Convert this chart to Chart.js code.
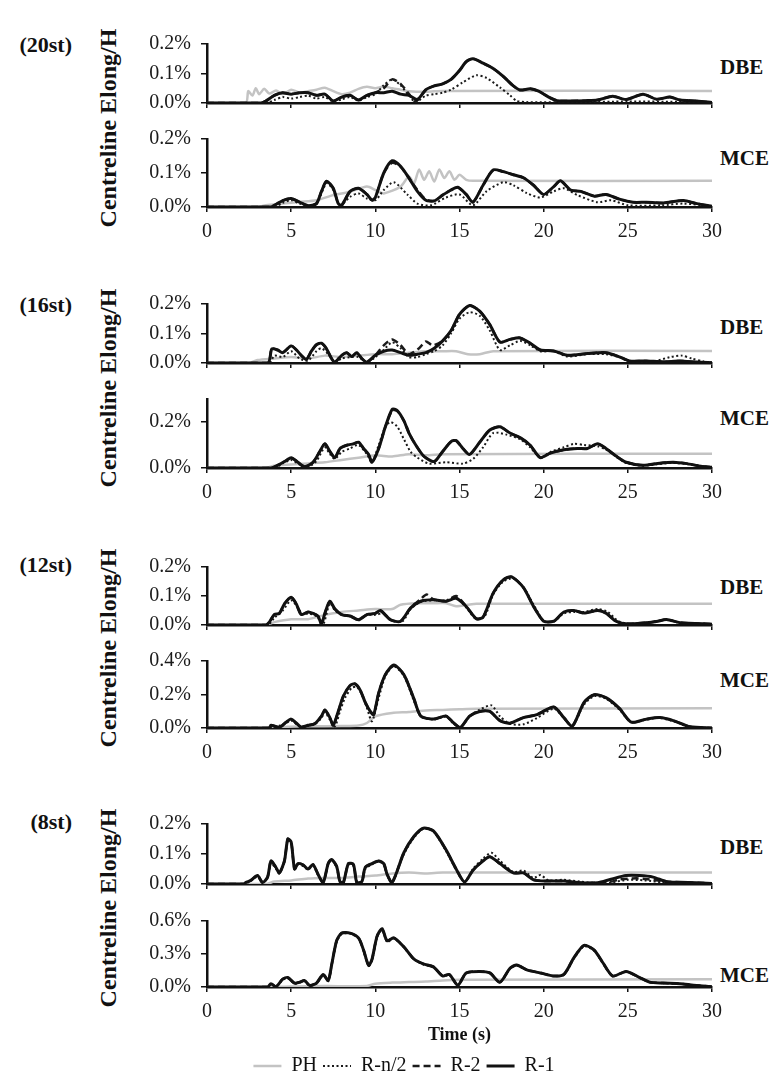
<!DOCTYPE html>
<html>
<head>
<meta charset="utf-8">
<script src="https://cdn.jsdelivr.net/npm/chart.js@4.4.1/dist/chart.umd.min.js"></script>
<style>
  html, body { margin: 0; padding: 0; background: #fff; overflow: hidden; }
  #page { position: relative; width: 777px; height: 1074px; font-family: "Liberation Serif", "Times New Roman", serif; color: #111; }
  #page canvas { position: absolute; left: 96px; }
  .grp { position: absolute; right: 705px; font-weight: bold; font-size: 22px; transform: translateY(-50%); white-space: nowrap; }
  .ytitle { position: absolute; left: 108px; font-weight: bold; font-size: 24px; white-space: nowrap; transform: translate(-50%, -50%) rotate(-90deg); }
  .case { position: absolute; left: 720px; font-weight: bold; font-size: 21px; transform: translateY(-50%); }
</style>
</head>
<body>
<div id="page">
  <div class="grp" style="top:45px">(20st)</div>
  <div class="grp" style="top:305px">(16st)</div>
  <div class="grp" style="top:565px">(12st)</div>
  <div class="grp" style="top:822px">(8st)</div>
  <div class="ytitle" style="top:128px">Centreline Elong/H</div>
  <div class="ytitle" style="top:388px">Centreline Elong/H</div>
  <div class="ytitle" style="top:648px">Centreline Elong/H</div>
  <div class="ytitle" style="top:908px">Centreline Elong/H</div>
  <div class="case" style="top:67px">DBE</div>
  <div class="case" style="top:158px">MCE</div>
  <div class="case" style="top:327px">DBE</div>
  <div class="case" style="top:418px">MCE</div>
  <div class="case" style="top:587px">DBE</div>
  <div class="case" style="top:680px">MCE</div>
  <div class="case" style="top:847px">DBE</div>
  <div class="case" style="top:975px">MCE</div>
</div>
<script>
// centreline elongation / height (%) against time (s), [t, value] pairs

// 20 storey
const st20_dbe_ph = [[0,0],[2.3,0],[2.45,0.04],[2.7,0.025],[2.9,0.05],[3.1,0.03],[3.4,0.048],[3.7,0.032],[4.1,0.042],[4.5,0.03],[5,0.045],[5.5,0.035],[6,0.04],[6.5,0.045],[7,0.052],[7.5,0.04],[8,0.03],[8.5,0.035],[9,0.048],[9.5,0.055],[10,0.05],[10.5,0.056],[11,0.05],[11.5,0.045],[12,0.04],[13,0.038],[14,0.041],[30,0.041]];
const st20_dbe_rn2 = [[0,0],[3.5,0],[4,0.01],[4.5,0.02],[5,0.015],[5.5,0.02],[6,0.025],[6.5,0.015],[7,0.02],[7.5,0.005],[8,0.012],[8.5,0.02],[9,0.008],[9.5,0.02],[10,0.03],[10.5,0.06],[11,0.08],[11.5,0.06],[12,0.025],[12.4,0.003],[13,0.025],[13.5,0.03],[14,0.035],[14.5,0.045],[15.2,0.07],[16,0.094],[16.6,0.085],[17.4,0.053],[18,0.026],[18.4,0.007],[19,0.003],[22,0.003],[25,0.005],[28,0.004],[30,0.002]];
const st20_dbe_r2 = [[0,0],[3.2,0],[3.5,0.007],[4,0.026],[4.5,0.035],[5,0.03],[5.5,0.035],[6,0.035],[6.5,0.026],[7,0.03],[7.5,0.007],[8,0.02],[8.5,0.026],[9,0.01],[9.5,0.026],[10,0.035],[10.5,0.05],[11,0.08],[11.5,0.065],[12,0.03],[12.4,0.005],[13,0.045],[13.5,0.058],[14,0.065],[14.5,0.08],[15,0.11],[15.4,0.14],[15.8,0.15],[16.4,0.135],[17,0.117],[17.6,0.09],[18.2,0.058],[18.6,0.044],[19.2,0.048],[19.7,0.04],[20.3,0.02],[20.8,0.008],[21.5,0.007],[22.5,0.008],[23.2,0.01],[24.1,0.023],[24.9,0.012],[25.9,0.03],[26.7,0.013],[27.5,0.02],[28.1,0.01],[29.1,0.007],[30,0.002]];
const st20_dbe_r1 = [[0,0],[3.2,0],[3.5,0.007],[4,0.026],[4.5,0.035],[5,0.03],[5.5,0.035],[6,0.035],[6.5,0.026],[7,0.03],[7.5,0.007],[8,0.02],[8.5,0.026],[9,0.01],[9.5,0.026],[10,0.035],[10.5,0.035],[11,0.04],[11.5,0.03],[12,0.026],[12.5,0.012],[13,0.045],[13.5,0.058],[14,0.065],[14.5,0.08],[15,0.11],[15.4,0.14],[15.8,0.15],[16.4,0.135],[17,0.117],[17.6,0.09],[18.2,0.058],[18.6,0.044],[19.2,0.048],[19.7,0.04],[20.3,0.02],[20.8,0.008],[21.5,0.007],[22.5,0.008],[23.2,0.01],[24.1,0.023],[24.9,0.012],[25.9,0.03],[26.7,0.013],[27.5,0.02],[28.1,0.01],[29.1,0.007],[30,0.002]];

const st20_mce_ph = [[0,0],[3,0],[3.5,0.005],[4.5,0.01],[5.5,0.015],[6.5,0.02],[7.5,0.035],[8.5,0.045],[9.5,0.06],[10,0.05],[10.5,0.04],[11.5,0.06],[12,0.09],[12.3,0.07],[12.6,0.11],[12.9,0.08],[13.2,0.105],[13.5,0.075],[13.8,0.11],[14.1,0.085],[14.4,0.105],[14.7,0.08],[15,0.095],[15.4,0.08],[15.8,0.077],[30,0.077]];
const st20_mce_rn2 = [[0,0],[4,0],[4.5,0.012],[5,0.02],[5.5,0.01],[6,0.003],[6.5,0.008],[7.1,0.07],[7.5,0.05],[7.9,0.005],[8.5,0.03],[9,0.04],[9.5,0.025],[10,0.02],[10.5,0.05],[11.1,0.073],[11.9,0.037],[12.5,0.01],[13.3,0.005],[14.2,0.028],[15,0.037],[15.8,0.005],[16.6,0.046],[17.6,0.073],[18.2,0.064],[19,0.041],[19.8,0.028],[20.6,0.046],[21.2,0.055],[22,0.035],[23.2,0.014],[24,0.02],[25,0.005],[27,0.005],[28.3,0.01],[30,0.002]];
const st20_mce_r2 = [[0,0],[3.8,0],[4,0.005],[4.5,0.019],[5,0.025],[5.5,0.014],[6,0.004],[6.5,0.01],[6.8,0.046],[7.1,0.076],[7.5,0.055],[7.8,0.01],[8,0.005],[8.5,0.046],[9,0.055],[9.5,0.037],[9.8,0.02],[10,0.028],[10.5,0.1],[11,0.13],[11.5,0.118],[12,0.085],[12.5,0.05],[13,0.022],[13.5,0.018],[14,0.035],[14.5,0.05],[14.9,0.058],[15.4,0.037],[15.8,0.014],[16.4,0.064],[17,0.109],[17.6,0.104],[18.2,0.095],[18.8,0.086],[19.4,0.064],[20,0.037],[20.6,0.06],[21,0.077],[21.6,0.05],[22.2,0.046],[23,0.032],[23.7,0.037],[24.5,0.023],[25.3,0.014],[26.1,0.014],[27.1,0.012],[28.3,0.019],[29.1,0.01],[30,0.002]];
const st20_mce_r1 = [[0,0],[3.8,0],[4,0.005],[4.5,0.019],[5,0.025],[5.5,0.014],[6,0.004],[6.5,0.01],[6.8,0.046],[7.1,0.076],[7.5,0.055],[7.8,0.01],[8,0.005],[8.5,0.046],[9,0.055],[9.5,0.037],[9.8,0.02],[10,0.028],[10.5,0.1],[11,0.136],[11.5,0.12],[12,0.085],[12.5,0.046],[13,0.02],[13.5,0.018],[14,0.035],[14.5,0.05],[14.9,0.058],[15.4,0.037],[15.8,0.014],[16.4,0.064],[17,0.109],[17.6,0.104],[18.2,0.095],[18.8,0.086],[19.4,0.064],[20,0.037],[20.6,0.06],[21,0.077],[21.6,0.05],[22.2,0.046],[23,0.032],[23.7,0.037],[24.5,0.023],[25.3,0.014],[26.1,0.014],[27.1,0.012],[28.3,0.019],[29.1,0.01],[30,0.002]];

// 16 storey
const st16_dbe_ph = [[0,0],[2.5,0],[3,0.01],[4,0.015],[5,0.02],[6,0.015],[7,0.025],[8,0.02],[9,0.025],[10,0.03],[11,0.03],[12,0.035],[13,0.04],[14,0.04],[14.8,0.04],[15.5,0.03],[16.2,0.03],[17,0.04],[30,0.041]];
const st16_dbe_rn2 = [[0,0],[3.7,0],[4,0.025],[4.5,0.02],[5,0.04],[5.5,0.015],[6,0.008],[6.5,0.04],[6.8,0.05],[7.2,0.03],[7.6,0.003],[8,0.015],[8.5,0.02],[9,0.02],[9.5,0.003],[10,0.02],[10.5,0.045],[11,0.07],[11.5,0.05],[12,0.02],[12.5,0.02],[13,0.03],[13.5,0.04],[14,0.06],[14.5,0.1],[15,0.15],[15.6,0.172],[16.2,0.16],[16.8,0.11],[17.4,0.044],[18,0.06],[18.6,0.075],[19.2,0.06],[19.8,0.04],[20.6,0.04],[21.4,0.022],[22.6,0.03],[23.7,0.03],[24.5,0.02],[25.1,0.005],[26.5,0.005],[27.5,0.02],[28.2,0.025],[28.8,0.015],[29.5,0.005],[30,0.001]];
const st16_dbe_r2 = [[0,0],[3.6,0],[3.85,0.048],[4.2,0.044],[4.5,0.035],[5,0.058],[5.3,0.045],[5.6,0.026],[5.9,0.012],[6.2,0.04],[6.5,0.062],[6.8,0.067],[7.1,0.048],[7.4,0.015],[7.6,0.003],[8,0.026],[8.3,0.035],[8.6,0.022],[8.9,0.035],[9.2,0.015],[9.5,0.003],[10,0.026],[10.5,0.06],[11,0.08],[11.5,0.06],[12,0.03],[12.6,0.05],[13,0.073],[13.4,0.06],[14,0.075],[14.5,0.11],[15,0.165],[15.6,0.195],[16.2,0.176],[16.8,0.13],[17.4,0.071],[18,0.08],[18.6,0.085],[19.2,0.067],[19.8,0.044],[20.6,0.041],[21.4,0.026],[22.6,0.032],[23.7,0.035],[24.5,0.021],[25.1,0.007],[26.1,0.007],[27.1,0.004],[28.1,0.007],[29.1,0.003],[30,0.001]];
const st16_dbe_r1 = [[0,0],[3.6,0],[3.85,0.048],[4.2,0.044],[4.5,0.035],[5,0.058],[5.3,0.045],[5.6,0.026],[5.9,0.012],[6.2,0.04],[6.5,0.062],[6.8,0.067],[7.1,0.048],[7.4,0.015],[7.6,0.003],[8,0.026],[8.3,0.035],[8.6,0.022],[8.9,0.035],[9.2,0.015],[9.5,0.003],[10,0.026],[10.5,0.04],[11,0.044],[11.5,0.035],[12,0.026],[12.5,0.03],[13,0.035],[13.5,0.05],[14,0.075],[14.5,0.11],[15,0.165],[15.6,0.195],[16.2,0.176],[16.8,0.13],[17.4,0.071],[18,0.08],[18.6,0.085],[19.2,0.067],[19.8,0.044],[20.6,0.041],[21.4,0.026],[22.6,0.032],[23.7,0.035],[24.5,0.021],[25.1,0.007],[26.1,0.007],[27.1,0.004],[28.1,0.007],[29.1,0.003],[30,0.001]];

const st16_mce_ph = [[0,0],[3.5,0],[4,0.01],[5,0.015],[6,0.02],[7,0.025],[8,0.035],[9,0.045],[10,0.055],[11,0.05],[12,0.06],[13,0.055],[14,0.06],[30,0.062]];
const st16_mce_rn2 = [[0,0],[4,0],[4.5,0.02],[5,0.035],[5.5,0.015],[6,0.005],[6.5,0.03],[7,0.09],[7.3,0.06],[7.6,0.04],[8,0.07],[8.5,0.085],[9,0.1],[9.5,0.06],[9.8,0.025],[10.2,0.1],[10.6,0.18],[10.9,0.2],[11.3,0.18],[11.7,0.125],[12.1,0.07],[12.5,0.045],[13.2,0.019],[14.2,0.025],[15.2,0.019],[15.8,0.039],[16.4,0.09],[17,0.152],[17.8,0.145],[18.6,0.125],[19.2,0.09],[19.8,0.045],[20.4,0.07],[21.2,0.09],[21.8,0.105],[22.4,0.1],[23.2,0.095],[23.7,0.08],[24.3,0.05],[24.9,0.022],[25.9,0.01],[26.9,0.018],[27.7,0.022],[28.5,0.017],[30,0.003]];
const st16_mce_r2 = [[0,0],[3.8,0],[4.2,0.012],[4.7,0.032],[5,0.045],[5.4,0.025],[5.8,0.005],[6.3,0.025],[6.7,0.072],[7,0.105],[7.3,0.072],[7.6,0.045],[7.9,0.085],[8.3,0.099],[8.7,0.105],[9,0.112],[9.3,0.085],[9.6,0.059],[9.8,0.025],[10.2,0.085],[10.6,0.18],[11,0.25],[11.3,0.248],[11.7,0.205],[12,0.152],[12.4,0.1],[12.9,0.05],[13.5,0.028],[14,0.072],[14.5,0.115],[14.8,0.119],[15.2,0.085],[15.6,0.059],[16.2,0.112],[16.8,0.165],[17.4,0.179],[18,0.152],[18.6,0.132],[19.2,0.099],[19.8,0.045],[20.4,0.065],[21.2,0.079],[22,0.085],[22.6,0.085],[23.2,0.105],[23.7,0.085],[24.3,0.052],[24.9,0.025],[25.9,0.012],[26.9,0.021],[27.7,0.025],[28.5,0.019],[29.3,0.008],[30,0.003]];
const st16_mce_r1 = [[0,0],[3.8,0],[4.2,0.012],[4.7,0.032],[5,0.045],[5.4,0.025],[5.8,0.005],[6.3,0.025],[6.7,0.072],[7,0.105],[7.3,0.072],[7.6,0.045],[7.9,0.085],[8.3,0.099],[8.7,0.105],[9,0.112],[9.3,0.085],[9.6,0.059],[9.8,0.025],[10.2,0.085],[10.6,0.18],[11,0.255],[11.3,0.25],[11.7,0.205],[12,0.152],[12.4,0.1],[12.9,0.05],[13.5,0.028],[14,0.072],[14.5,0.115],[14.8,0.119],[15.2,0.085],[15.6,0.059],[16.2,0.112],[16.8,0.165],[17.4,0.179],[18,0.152],[18.6,0.132],[19.2,0.099],[19.8,0.045],[20.4,0.065],[21.2,0.079],[22,0.085],[22.6,0.085],[23.2,0.105],[23.7,0.085],[24.3,0.052],[24.9,0.025],[25.9,0.012],[26.9,0.021],[27.7,0.025],[28.5,0.019],[29.3,0.008],[30,0.003]];

// 12 storey
const st12_dbe_ph = [[0,0],[3.5,0],[4,0.01],[5,0.02],[6,0.02],[7,0.035],[8,0.045],[9,0.05],[10,0.055],[11,0.055],[11.5,0.07],[12.5,0.075],[13.5,0.075],[14.2,0.075],[14.8,0.065],[15.5,0.07],[16,0.073],[30,0.073]];
const st12_dbe_rn2 = [[0,0],[3.6,0],[4,0.025],[4.5,0.05],[5,0.085],[5.4,0.06],[5.7,0.035],[6,0.04],[6.5,0.03],[6.9,0.003],[7.3,0.075],[7.6,0.05],[8,0.035],[8.5,0.03],[9,0.02],[9.5,0.035],[10,0.035],[10.5,0.04],[11,0.015],[11.6,0.012],[12.1,0.055],[12.7,0.08],[13.45,0.085],[14.2,0.085],[14.8,0.095],[15.4,0.06],[16,0.02],[16.5,0.03],[17,0.105],[17.6,0.15],[18.2,0.16],[18.8,0.13],[19.4,0.07],[20,0.015],[20.6,0.012],[21.2,0.04],[21.8,0.045],[22.4,0.045],[23.2,0.055],[23.8,0.045],[24.4,0.015],[25,0.004],[26.1,0.008],[27.3,0.018],[28.1,0.008],[30,0.003]];
const st12_dbe_r2 = [[0,0],[3.5,0],[3.7,0.01],[4,0.036],[4.3,0.04],[4.6,0.073],[5,0.096],[5.3,0.073],[5.6,0.036],[6,0.045],[6.3,0.04],[6.6,0.03],[6.8,0.004],[7,0.04],[7.3,0.082],[7.6,0.055],[8,0.036],[8.5,0.031],[9,0.018],[9.5,0.036],[10,0.04],[10.3,0.05],[10.9,0.018],[11.5,0.013],[12.1,0.059],[12.7,0.09],[13.05,0.105],[13.4,0.09],[14.2,0.082],[14.8,0.1],[15.4,0.064],[16,0.022],[16.4,0.027],[17,0.11],[17.6,0.156],[18.1,0.166],[18.8,0.129],[19.4,0.064],[20,0.013],[20.6,0.013],[21.2,0.045],[21.8,0.05],[22.4,0.041],[23.2,0.05],[23.7,0.041],[24.3,0.013],[24.9,0.004],[26.1,0.008],[26.7,0.012],[27.3,0.019],[28.1,0.008],[30,0.003]];
const st12_dbe_r1 = [[0,0],[3.5,0],[3.7,0.01],[4,0.036],[4.3,0.04],[4.6,0.073],[5,0.096],[5.3,0.073],[5.6,0.036],[6,0.045],[6.3,0.04],[6.6,0.03],[6.8,0.004],[7,0.04],[7.3,0.082],[7.6,0.055],[8,0.036],[8.5,0.031],[9,0.018],[9.5,0.036],[10,0.04],[10.3,0.05],[10.9,0.018],[11.5,0.013],[12.1,0.059],[12.7,0.082],[13.45,0.087],[14.2,0.082],[14.8,0.092],[15.4,0.064],[16,0.022],[16.4,0.027],[17,0.11],[17.6,0.156],[18.1,0.166],[18.8,0.129],[19.4,0.064],[20,0.013],[20.6,0.013],[21.2,0.045],[21.8,0.05],[22.4,0.041],[23.2,0.05],[23.7,0.041],[24.3,0.013],[24.9,0.004],[26.1,0.008],[26.7,0.012],[27.3,0.019],[28.1,0.008],[30,0.003]];

const st12_mce_ph = [[0,0],[3.5,0],[4,0.005],[6,0.01],[8,0.012],[9,0.015],[9.5,0.03],[10,0.07],[11,0.09],[12,0.095],[13,0.105],[14,0.108],[15,0.112],[16,0.115],[30,0.118]];
const st12_mce_rn2 = [[0,0],[3.8,0],[4.7,0.03],[5,0.045],[5.5,0.01],[6,0.012],[6.4,0.022],[6.8,0.06],[7,0.095],[7.3,0.05],[7.6,0.01],[7.9,0.1],[8.2,0.18],[8.6,0.24],[8.9,0.245],[9.2,0.2],[9.5,0.12],[9.8,0.04],[10.2,0.18],[10.6,0.31],[11.1,0.37],[11.7,0.31],[12.3,0.16],[12.7,0.07],[13.45,0.05],[14.2,0.068],[14.6,0.03],[15.05,0.004],[15.6,0.07],[16.2,0.11],[16.9,0.135],[17.4,0.07],[18,0.025],[18.8,0.022],[19.6,0.06],[20.6,0.115],[21.2,0.06],[21.7,0.011],[22.4,0.14],[23,0.19],[23.7,0.175],[24.5,0.11],[25.2,0.035],[26.1,0.05],[26.9,0.06],[27.7,0.04],[28.7,0.006],[30,0]];
const st12_mce_r2 = [[0,0],[3.7,0],[3.8,0.016],[4.3,0.004],[4.7,0.035],[5,0.053],[5.3,0.03],[5.6,0.005],[6,0.016],[6.4,0.026],[6.8,0.071],[7,0.108],[7.3,0.062],[7.5,0.016],[7.8,0.1],[8.1,0.19],[8.5,0.254],[8.8,0.263],[9.1,0.226],[9.4,0.153],[9.7,0.099],[9.9,0.08],[10.2,0.21],[10.6,0.32],[11.1,0.372],[11.7,0.318],[12.3,0.172],[12.7,0.071],[13.45,0.053],[14.2,0.071],[14.6,0.035],[15.05,0.004],[15.6,0.071],[16.2,0.099],[16.8,0.099],[17.4,0.044],[18,0.029],[18.8,0.062],[19.6,0.08],[20.6,0.126],[21.2,0.062],[21.7,0.011],[22.4,0.153],[23,0.199],[23.7,0.181],[24.5,0.117],[25.2,0.035],[26.1,0.053],[26.9,0.062],[27.7,0.044],[28.7,0.007],[30,0]];
const st12_mce_r1 = [[0,0],[3.7,0],[3.8,0.016],[4.3,0.004],[4.7,0.035],[5,0.053],[5.3,0.03],[5.6,0.005],[6,0.016],[6.4,0.026],[6.8,0.071],[7,0.108],[7.3,0.062],[7.5,0.016],[7.8,0.1],[8.1,0.19],[8.5,0.254],[8.8,0.263],[9.1,0.226],[9.4,0.153],[9.7,0.099],[9.9,0.08],[10.2,0.21],[10.6,0.32],[11.1,0.376],[11.7,0.318],[12.3,0.172],[12.7,0.071],[13.45,0.053],[14.2,0.071],[14.6,0.035],[15.05,0.004],[15.6,0.071],[16.2,0.099],[16.8,0.099],[17.4,0.044],[18,0.029],[18.8,0.062],[19.6,0.08],[20.6,0.126],[21.2,0.062],[21.7,0.011],[22.4,0.153],[23,0.199],[23.7,0.181],[24.5,0.117],[25.2,0.035],[26.1,0.053],[26.9,0.062],[27.7,0.044],[28.7,0.007],[30,0]];

// 8 storey
const st8_dbe_ph = [[0,0],[3.5,0],[4,0.008],[5,0.012],[6,0.018],[7,0.02],[8,0.02],[9,0.025],[10,0.028],[11,0.035],[12,0.038],[13,0.035],[14,0.038],[30,0.038]];
const st8_dbe_rn2 = [[0,0],[2.2,0],[2.6,0.01],[3,0.025],[3.3,0.005],[3.6,0.02],[3.8,0.07],[4.1,0.05],[4.3,0.035],[4.6,0.075],[4.8,0.145],[5,0.135],[5.2,0.05],[5.4,0.065],[5.7,0.06],[6,0.048],[6.3,0.06],[6.6,0.03],[6.9,0.005],[7.2,0.065],[7.4,0.08],[7.7,0.055],[7.9,0.008],[8.1,0.005],[8.4,0.065],[8.7,0.06],[8.9,0.005],[9.2,0.008],[9.4,0.05],[9.8,0.065],[10.2,0.075],[10.5,0.065],[10.7,0.03],[11,0.005],[11.7,0.1],[12.3,0.155],[12.85,0.184],[13.45,0.175],[14.2,0.11],[14.8,0.048],[15.3,0.007],[15.8,0.05],[16.4,0.085],[16.9,0.104],[17.4,0.078],[18.2,0.04],[18.8,0.045],[19.4,0.02],[19.8,0.03],[20.3,0.012],[21.2,0.014],[22.2,0.008],[23.2,0.003],[24,0.005],[25,0.014],[26,0.012],[27,0.006],[28.1,0.005],[30,0.002]];
const st8_dbe_r2 = [[0,0],[2.2,0],[2.3,0.005],[2.6,0.012],[3,0.028],[3.3,0.005],[3.6,0.023],[3.8,0.077],[4.1,0.055],[4.3,0.037],[4.6,0.077],[4.8,0.15],[5,0.14],[5.2,0.05],[5.4,0.068],[5.7,0.064],[6,0.05],[6.3,0.065],[6.6,0.032],[6.9,0.005],[7.2,0.068],[7.4,0.082],[7.7,0.059],[7.9,0.008],[8.1,0.005],[8.4,0.068],[8.7,0.065],[8.9,0.005],[9.2,0.008],[9.4,0.055],[9.8,0.068],[10.2,0.077],[10.5,0.068],[10.7,0.032],[11,0.005],[11.7,0.105],[12.3,0.159],[12.85,0.186],[13.45,0.177],[14.2,0.114],[14.8,0.05],[15.3,0.007],[15.8,0.046],[16.4,0.077],[16.8,0.091],[17.4,0.068],[18.2,0.037],[18.8,0.037],[19.4,0.014],[20.2,0.01],[21.2,0.01],[22.2,0.004],[23.2,0.004],[24,0.008],[24.5,0.015],[25.5,0.019],[26.3,0.015],[27.3,0.008],[28.1,0.006],[30,0.002]];
const st8_dbe_r1 = [[0,0],[2.2,0],[2.3,0.005],[2.6,0.012],[3,0.028],[3.3,0.005],[3.6,0.023],[3.8,0.077],[4.1,0.055],[4.3,0.037],[4.6,0.077],[4.8,0.15],[5,0.14],[5.2,0.05],[5.4,0.068],[5.7,0.064],[6,0.05],[6.3,0.065],[6.6,0.032],[6.9,0.005],[7.2,0.068],[7.4,0.082],[7.7,0.059],[7.9,0.008],[8.1,0.005],[8.4,0.068],[8.7,0.065],[8.9,0.005],[9.2,0.008],[9.4,0.055],[9.8,0.068],[10.2,0.077],[10.5,0.068],[10.7,0.032],[11,0.005],[11.7,0.105],[12.3,0.159],[12.85,0.186],[13.45,0.177],[14.2,0.114],[14.8,0.05],[15.3,0.007],[15.8,0.046],[16.4,0.077],[16.8,0.091],[17.4,0.068],[18.2,0.037],[18.8,0.037],[19.4,0.014],[20.2,0.01],[21.2,0.01],[22.2,0.004],[23.2,0.004],[24,0.016],[24.9,0.028],[25.7,0.028],[26.5,0.023],[27.3,0.008],[28.1,0.006],[30,0.002]];

const st8_mce_ph = [[0,0],[3.5,0],[5,0.005],[7,0.008],[9.5,0.01],[10,0.03],[11,0.04],[12,0.045],[13,0.05],[14,0.06],[15,0.065],[30,0.07]];
const st8_mce_rn2 = [[0,0],[3.6,0],[3.8,0.025],[4.1,0.004],[4.5,0.065],[4.8,0.08],[5.2,0.03],[5.5,0.04],[5.8,0.052],[6.1,0.012],[6.5,0.03],[6.9,0.105],[7.2,0.055],[7.4,0.19],[7.7,0.41],[8,0.48],[8.5,0.485],[9,0.44],[9.3,0.33],[9.6,0.19],[9.8,0.24],[10.1,0.45],[10.4,0.52],[10.7,0.41],[11.1,0.44],[11.7,0.36],[12.3,0.25],[12.85,0.205],[13.45,0.18],[14,0.1],[14.4,0.11],[14.9,0.015],[15.4,0.125],[16.2,0.14],[16.8,0.13],[17.4,0.045],[18,0.165],[18.4,0.195],[19,0.155],[19.8,0.125],[20.6,0.1],[21.2,0.11],[21.8,0.26],[22.4,0.37],[23,0.33],[23.5,0.22],[24.1,0.1],[24.9,0.138],[25.7,0.085],[26.3,0.042],[27.1,0.035],[28.1,0.028],[28.9,0.015],[30,0.003]];
const st8_mce_r2 = [[0,0],[3.6,0],[3.8,0.03],[4.1,0.004],[4.5,0.072],[4.8,0.086],[5.2,0.035],[5.5,0.044],[5.8,0.058],[6.1,0.015],[6.5,0.035],[6.9,0.114],[7.2,0.058],[7.4,0.197],[7.7,0.42],[8,0.49],[8.5,0.49],[9,0.447],[9.3,0.336],[9.6,0.197],[9.8,0.25],[10.1,0.46],[10.4,0.525],[10.7,0.42],[11.1,0.447],[11.7,0.364],[12.3,0.253],[12.85,0.21],[13.45,0.183],[14,0.1],[14.4,0.114],[14.9,0.017],[15.4,0.128],[16.2,0.142],[16.8,0.128],[17.4,0.044],[18,0.17],[18.4,0.2],[19,0.156],[19.8,0.128],[20.6,0.1],[21.2,0.114],[21.8,0.267],[22.4,0.378],[23,0.336],[23.5,0.225],[24.1,0.1],[24.9,0.142],[25.7,0.086],[26.3,0.044],[27.1,0.036],[28.1,0.03],[28.9,0.017],[30,0.003]];
const st8_mce_r1 = [[0,0],[3.6,0],[3.8,0.03],[4.1,0.004],[4.5,0.072],[4.8,0.086],[5.2,0.035],[5.5,0.044],[5.8,0.058],[6.1,0.015],[6.5,0.035],[6.9,0.114],[7.2,0.058],[7.4,0.197],[7.7,0.42],[8,0.49],[8.5,0.49],[9,0.447],[9.3,0.336],[9.6,0.197],[9.8,0.25],[10.1,0.46],[10.4,0.53],[10.7,0.42],[11.1,0.447],[11.7,0.364],[12.3,0.253],[12.85,0.21],[13.45,0.183],[14,0.1],[14.4,0.114],[14.9,0.017],[15.4,0.128],[16.2,0.142],[16.8,0.128],[17.4,0.044],[18,0.17],[18.4,0.2],[19,0.156],[19.8,0.128],[20.6,0.1],[21.2,0.114],[21.8,0.267],[22.4,0.378],[23,0.336],[23.5,0.225],[24.1,0.1],[24.9,0.142],[25.7,0.086],[26.3,0.044],[27.1,0.036],[28.1,0.03],[28.9,0.017],[30,0.003]];

const seriesNames = ['PH', 'R-n/2', 'R-2', 'R-1'];
const timeTicks = { min: 0, max: 30, step: 5 };

// line look per series; order puts R-1 on top and PH underneath
const seriesStyles = [
  { borderColor: '#c3c3c3', borderWidth: 2.5, borderDash: [], order: 4 },
  { borderColor: '#1a1a1a', borderWidth: 2, borderDash: [2, 2.5], order: 3 },
  { borderColor: '#1a1a1a', borderWidth: 2.5, borderDash: [7, 4], order: 2 },
  { borderColor: '#111111', borderWidth: 3, borderDash: [], order: 1 }
];

// one panel per storey / hazard level; top and bottom are the plot edges in page px
const panels = [
  { top: 38,  bottom: 111, yMax: 0.2, yStep: 0.1, level: 'DBE', series: [st20_dbe_ph, st20_dbe_rn2, st20_dbe_r2, st20_dbe_r1] },
  { top: 133, bottom: 207, yMax: 0.2, yStep: 0.1, level: 'MCE', series: [st20_mce_ph, st20_mce_rn2, st20_mce_r2, st20_mce_r1] },
  { top: 298, bottom: 371, yMax: 0.2, yStep: 0.1, level: 'DBE', series: [st16_dbe_ph, st16_dbe_rn2, st16_dbe_r2, st16_dbe_r1] },
  { top: 393, bottom: 468, yMax: 0.3, yStep: 0.1, level: 'MCE', series: [st16_mce_ph, st16_mce_rn2, st16_mce_r2, st16_mce_r1] },
  { top: 561, bottom: 633, yMax: 0.2, yStep: 0.1, level: 'DBE', series: [st12_dbe_ph, st12_dbe_rn2, st12_dbe_r2, st12_dbe_r1] },
  { top: 655, bottom: 728, yMax: 0.4, yStep: 0.2, level: 'MCE', series: [st12_mce_ph, st12_mce_rn2, st12_mce_r2, st12_mce_r1] },
  { top: 818, bottom: 892, yMax: 0.2, yStep: 0.1, level: 'DBE', series: [st8_dbe_ph, st8_dbe_rn2, st8_dbe_r2, st8_dbe_r1] },
  { top: 915, bottom: 987, yMax: 0.6, yStep: 0.3, level: 'MCE', series: [st8_mce_ph, st8_mce_rn2, st8_mce_r2, st8_mce_r1] }
];

Chart.defaults.font.family = '"Liberation Serif", "Times New Roman", serif';
Chart.defaults.color = '#111';

const PAD_TOP = 16;
const Y_AXIS_W = 111;
const CANVAS_W = 634;
const PAD_RIGHT = 18;
const LEGEND_H = 36;

// legend entries taken from the line styles (default ones use point styling)
const legendLabels = chart => chart.data.datasets.map((ds, i) => ({
  text: ds.label,
  strokeStyle: ds.borderColor,
  fillStyle: ds.borderColor,
  fontColor: '#111',
  lineWidth: ds.borderWidth,
  lineDash: ds.borderDash,
  pointStyle: 'line',
  hidden: false,
  datasetIndex: i
}));

const drawPanel = (p, isLast) => {
  const isDBE = p.level === 'DBE';
  const xh = isDBE ? 8 : (isLast ? 63 : 34);
  const padBottom = isDBE ? 6 : (isLast ? 0 : 2);
  const height = PAD_TOP + (p.bottom - p.top) + xh + padBottom + (isLast ? LEGEND_H : 0);

  const canvas = document.createElement('canvas');
  canvas.width = CANVAS_W;
  canvas.height = height;
  canvas.style.top = (p.top - PAD_TOP) + 'px';
  document.getElementById('page').appendChild(canvas);

  const datasets = p.series.map((data, i) => ({
    label: seriesNames[i],
    data,
    borderColor: seriesStyles[i].borderColor,
    backgroundColor: seriesStyles[i].borderColor,
    borderWidth: seriesStyles[i].borderWidth,
    borderDash: seriesStyles[i].borderDash,
    order: seriesStyles[i].order,
    pointRadius: 0,
    tension: 0.25,
    fill: false
  }));

  new Chart(canvas.getContext('2d'), {
    type: 'line',
    data: { datasets },
    options: {
      responsive: false,
      animation: false,
      layout: { padding: { top: PAD_TOP, right: PAD_RIGHT, bottom: padBottom, left: 0 } },
      plugins: {
        tooltip: { enabled: false },
        legend: {
          display: isLast,
          position: 'bottom',
          labels: {
            usePointStyle: true,
            pointStyle: 'line',
            pointStyleWidth: 28,
            padding: 6,
            color: '#111',
            font: { size: 20 },
            generateLabels: legendLabels
          }
        }
      },
      scales: {
        x: {
          type: 'linear',
          min: timeTicks.min,
          max: timeTicks.max,
          afterFit: scale => { scale.height = xh; },
          ticks: { stepSize: timeTicks.step, display: !isDBE, padding: 8, maxRotation: 0, color: '#1a1a1a', font: { size: 20 } },
          grid: { drawOnChartArea: false, drawTicks: true, tickLength: 5, color: '#111', lineWidth: 1.5 },
          border: { display: true, color: '#111', width: 2.5 },
          title: { display: isLast, text: 'Time (s)', color: '#111', font: { size: 18, weight: 'bold' } }
        },
        y: {
          min: 0,
          max: p.yMax,
          afterFit: scale => { scale.width = Y_AXIS_W; },
          ticks: { stepSize: p.yStep, padding: 10, color: '#1a1a1a', font: { size: 20 }, callback: v => v.toFixed(1) + '%' },
          grid: { drawOnChartArea: false, drawTicks: true, tickLength: 6, color: '#111', lineWidth: 1.5 },
          border: { display: true, color: '#111', width: 2.5 }
        }
      }
    }
  });
};

panels.forEach((p, i) => drawPanel(p, i === panels.length - 1));
</script>
</body>
</html>
